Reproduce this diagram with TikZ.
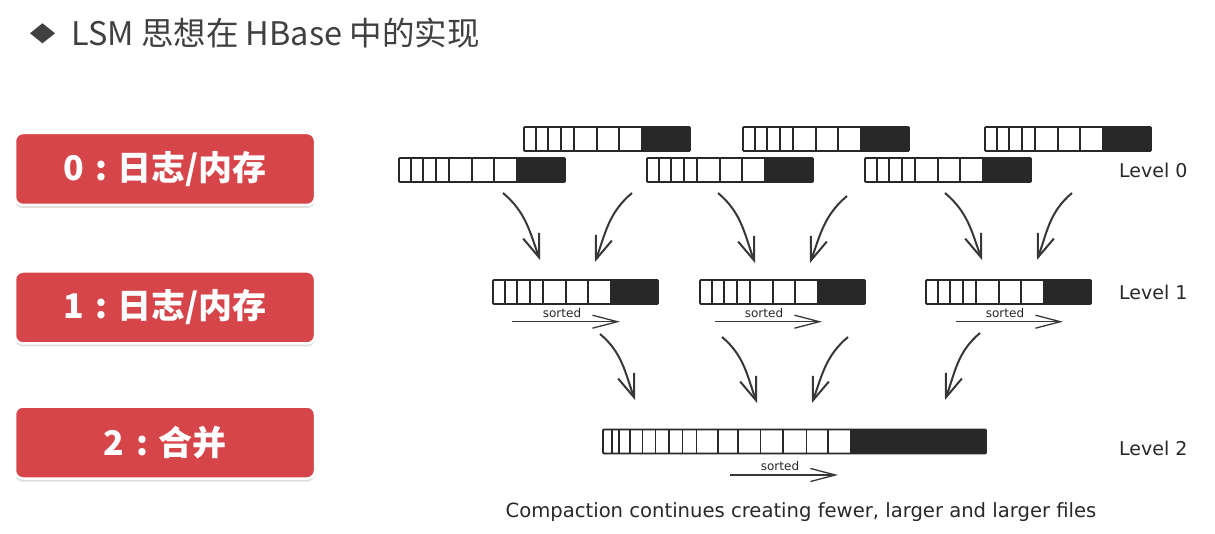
\documentclass[tikz,border=0pt]{standalone}
\usepackage{fontspec}
\setmainfont{DejaVu Sans}
\newfontfamily\cjk{Noto Sans CJK SC}
\usetikzlibrary{arrows.meta,shadows}
\definecolor{boxred}{RGB}{214,69,73}
\definecolor{barc}{RGB}{40,40,40}
\definecolor{arrc}{RGB}{55,55,55}
\definecolor{titlec}{RGB}{64,64,64}
\newcommand\lsmbar[6]{%
  \node[inner sep=0pt, outer sep=0pt, minimum width=#4pt, minimum height=24pt, anchor=north west] (#1) at (#2,-#3) {};
  \fill[barblack] ([xshift=#5pt]#1.north west) rectangle (#1.south east);
  \edef\lsmlist{#6}%
  \foreach \d in \lsmlist {\draw[barline] ([xshift=\d pt]#1.north west) -- ([xshift=\d pt]#1.south west);}
  \draw[barline, rounded corners=1pt] (#1.north west) rectangle (#1.south east);
}
\begin{document}
\begin{tikzpicture}[x=1pt,y=1pt,
  barline/.style={draw=barc, line width=1.8pt},
  barblack/.style={fill=barc},
  redbox/.style={fill=boxred, draw=white, line width=2.5pt, rounded corners=8pt,
    minimum width=300pt, minimum height=72pt, inner sep=0pt,
    drop shadow={shadow xshift=0pt, shadow yshift=-3pt, fill=black!22, opacity=0.6},
    text=white, font=\cjk\bfseries\fontsize{34}{34}\selectfont},
  curarrow/.style={draw=arrc, line width=2pt, -{Straight Barb[length=23pt,width=17pt]}},
  sortarrow/.style={draw=arrc, line width=1.3pt, -{Straight Barb[length=25pt,width=13pt]}},
  sortlabel/.style={font=\fontsize{12}{12}\selectfont, text=barc, inner sep=1pt},
  levellabel/.style={anchor=west, font=\fontsize{19}{19}\selectfont, text=barc, inner sep=0pt},
]
\useasboundingbox[fill=white] (0,0) rectangle (1215,-534);

% title
\fill[titlec] (30,-33.3) -- (42.5,-23.3) -- (55,-33.3) -- (42.5,-43.3) -- cycle;
\node[anchor=west, inner sep=0pt, text=titlec, font=\cjk\fontsize{32.5}{32.5}\selectfont] (title) at (71,-33) {LSM 思想在 HBase 中的实现};

% red boxes
\node[redbox] (r0) at (165,-169) {0\hspace{0.35em}:\hspace{0.3em}日志/内存};
\node[redbox] (r1) at (165,-307.5) {1\hspace{0.35em}:\hspace{0.3em}日志/内存};
\node[redbox] (r2) at (165,-442.5) {2\hspace{0.35em}:\hspace{0.3em}合并};

% level 0 bars
\def\lzero{11.7,24.3,37.3,50,72.7,95.3}
\lsmbar{b0a}{524}{127}{166}{116.7}{\lzero}
\lsmbar{b0b}{743}{127}{166}{116.7}{\lzero}
\lsmbar{b0c}{985}{127}{166}{116.7}{\lzero}
\lsmbar{b0d}{399}{158}{166}{116.7}{\lzero}
\lsmbar{b0e}{647}{158}{166}{116.7}{\lzero}
\lsmbar{b0f}{865}{158}{166}{116.7}{\lzero}

% level 1 bars
\lsmbar{b1a}{493}{280}{165}{116.5}{\lzero}
\lsmbar{b1b}{700}{280}{165}{116.5}{\lzero}
\lsmbar{b1c}{926}{280}{165}{116.5}{\lzero}

% level 2 bar
\lsmbar{b2}{603}{429.5}{383}{246.5}{9,16,27,39.5,52.5,66,79.5,93.5,115,135,157.5,180,203.5,225}

% level labels
\node[levellabel] (l0) at (1119,-170) {Level 0};
\node[levellabel] (l1) at (1119,-292) {Level 1};
\node[levellabel] (l2) at (1119,-448) {Level 2};

% curved arrows level 0 -> 1
\coordinate (c1s) at (503,-193); \coordinate (c1e) at (540,-260);
\coordinate (c2s) at (632,-193); \coordinate (c2e) at (595,-262);
\coordinate (c3s) at (718,-193); \coordinate (c3e) at (755,-263);
\coordinate (c4s) at (847,-196); \coordinate (c4e) at (810,-263);
\coordinate (c5s) at (945,-193); \coordinate (c5e) at (982,-260);
\coordinate (c6s) at (1072,-193); \coordinate (c6e) at (1037,-260);
\draw[curarrow] (c1s) to[out=-40,in=110] (c1e);
\draw[curarrow] (c2s) to[out=-140,in=70] (c2e);
\draw[curarrow] (c3s) to[out=-40,in=110] (c3e);
\draw[curarrow] (c4s) to[out=-140,in=70] (c4e);
\draw[curarrow] (c5s) to[out=-40,in=110] (c5e);
\draw[curarrow] (c6s) to[out=-140,in=70] (c6e);

% curved arrows level 1 -> 2
\coordinate (d1s) at (600,-334); \coordinate (d1e) at (635,-400);
\coordinate (d2s) at (722,-337); \coordinate (d2e) at (757,-403);
\coordinate (d3s) at (848,-337); \coordinate (d3e) at (812,-403);
\coordinate (d4s) at (980,-333); \coordinate (d4e) at (945,-400);
\draw[curarrow] (d1s) to[out=-40,in=110] (d1e);
\draw[curarrow] (d2s) to[out=-40,in=110] (d2e);
\draw[curarrow] (d3s) to[out=-140,in=70] (d3e);
\draw[curarrow] (d4s) to[out=-140,in=70] (d4e);

% sorted arrows
\coordinate (s1s) at (512,-321.7); \coordinate (s1e) at (620,-321.7);
\coordinate (s2s) at (715,-321.7); \coordinate (s2e) at (822,-321.7);
\coordinate (s3s) at (956,-321.7); \coordinate (s3e) at (1063,-321.7);
\coordinate (s4s) at (730,-475); \coordinate (s4e) at (838,-475);
\draw[sortarrow] (s1s) -- (s1e);
\draw[sortarrow] (s2s) -- (s2e);
\draw[sortarrow] (s3s) -- (s3e);
\draw[sortarrow] (s4s) -- (s4e);
\node[sortlabel] (t1) at (562,-313) {sorted};
\node[sortlabel] (t2) at (764,-313) {sorted};
\node[sortlabel] (t3) at (1005,-313) {sorted};
\node[sortlabel] (t4) at (780,-466.5) {sorted};

% caption
\node[text=barc, font=\fontsize{19.6}{19.6}\selectfont, inner sep=0pt] (cap) at (801,-512) {Compaction continues creating fewer, larger and larger files};
\end{tikzpicture}
\end{document}
